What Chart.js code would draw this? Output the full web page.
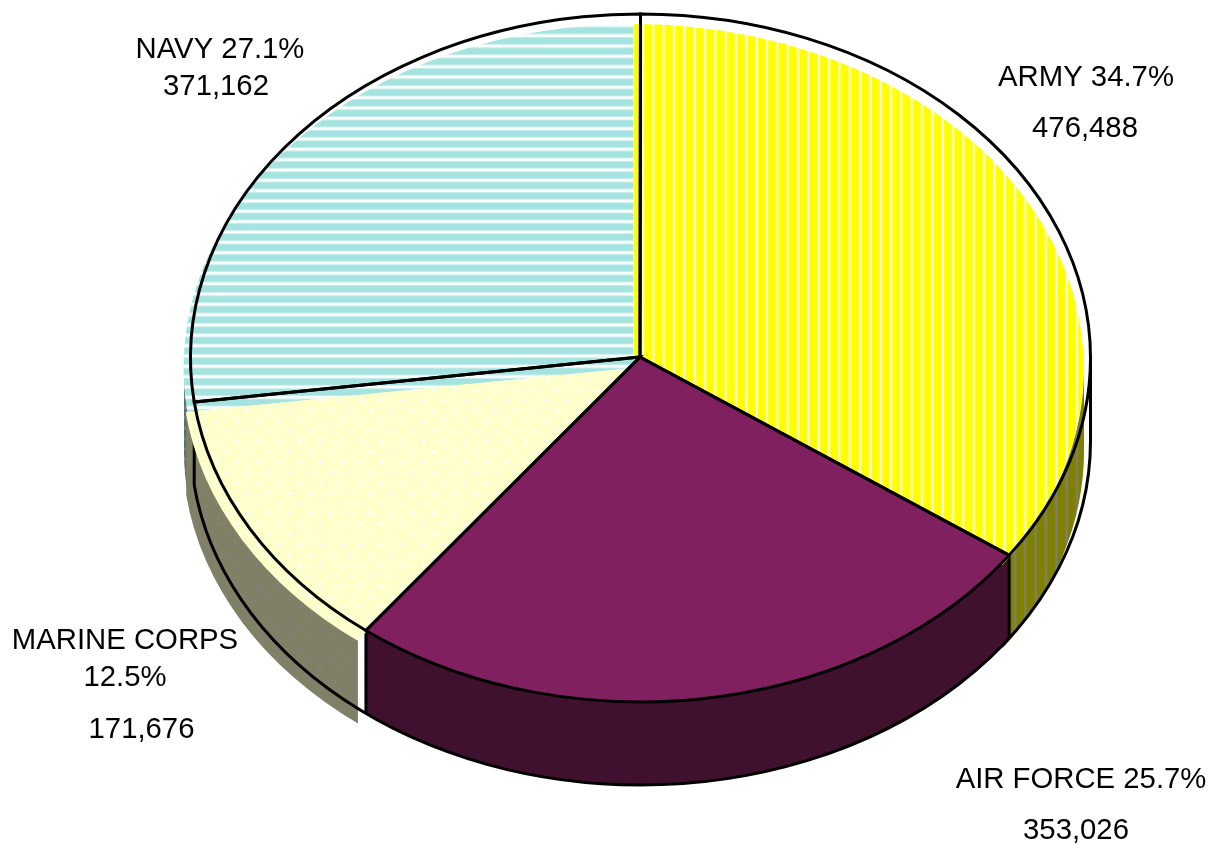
<!DOCTYPE html>
<html><head><meta charset="utf-8">
<style>html,body{margin:0;padding:0;background:#fff;overflow:hidden}canvas{display:block}</style>
<script src="https://cdn.jsdelivr.net/npm/chart.js@4"></script>
</head><body><canvas id="c" width="1212" height="844"></canvas>
<script>
const categories = ['ARMY', 'AIR FORCE', 'MARINE CORPS', 'NAVY'];
const values = [476488, 353026, 171676, 371162];
const percents = ['34.7', '25.7', '12.5', '27.1'];
const valueLabels = ['476,488', '353,026', '171,676', '371,162'];

const LOOK = {cx:640.5, cy:358, apexX:640, apexY:357, rx:450, ry:344, depth:83, line:3};
const SHIFT = [[-6.5,10],[0,0],[-8,10],[-6.5,10]];
const PERIOD = 31/3;

function stripes(vertical, band, gap, center, width){
  const t = document.createElement('canvas'); t.width = t.height = 31;
  const g = t.getContext('2d'); g.fillStyle = band; g.fillRect(0,0,31,31);
  g.fillStyle = gap;
  const paint = (w, alpha) => {
    g.globalAlpha = alpha;
    for (let k=-2;k<=3;k++){
      const s = center - w/2 + k*PERIOD;
      if (vertical) g.fillRect(s,0,w,31); else g.fillRect(0,s,31,w);
    }
  };
  paint(width+2, .4);
  paint(width, .9);
  return t;
}
function dots(base, dot){
  const t = document.createElement('canvas'); t.width = t.height = 62;
  const g = t.getContext('2d'); g.fillStyle = base; g.fillRect(0,0,62,62);
  g.fillStyle = dot;
  for (let i=-1;i<=7;i++) for (let j=-1;j<=7;j++){
    if ((i+j)%2) continue;
    g.beginPath(); g.arc(i*PERIOD,j*PERIOD,1.8,0,7); g.fill();
  }
  return t;
}
const ctx0 = document.getElementById('c').getContext('2d');
function pat(tile, ax, ay){
  const p = ctx0.createPattern(tile,'repeat');
  p.matrix = new DOMMatrix().translate(ax,ay);
  p.setTransform(p.matrix);
  return p;
}
const topFill = [
  pat(stripes(true,'#FFFF00','#FFFFFF',2.3,1.2), 0, 0),
  '#80205F',
  pat(dots('#FFFFCC','#FFFFFF'), 413, 452),
  pat(stripes(false,'#A5E3E0','#FFFFFF',15,2.4), 0, 0)
];
const wallFill = [
  pat(stripes(true,'#808000','#808080',2.3,1.2), 0, 0),
  '#40102F',
  pat(dots('#808066','#808080'), 413, 452),
  pat(stripes(false,'#537170','#808080',15,2.4), 0, 0)
];

const pie3d = {
  id:'pie3d',
  beforeDatasetsDraw(chart){
    const ctx = chart.ctx, arcs = chart.getDatasetMeta(0).data, L = LOOK;
    for (const i of [3,2,0,1]){
      const a = arcs[i], a0 = Math.max(a.startAngle,0), a1 = Math.min(a.endAngle,Math.PI);
      if (a1 <= a0) continue;
      const [dx,dy] = SHIFT[i];
      ctx.beginPath();
      ctx.ellipse(L.cx+dx,L.cy+dy,L.rx,L.ry,0,a0,a1);
      ctx.ellipse(L.cx+dx,L.cy+dy+L.depth,L.rx,L.ry,0,a1,a0,true);
      ctx.closePath();
      ctx.fillStyle = wallFill[i];
      ctx.fill();
    }
    ctx.strokeStyle='#000'; ctx.lineWidth=L.line; ctx.lineJoin='round';
    ctx.beginPath();
    ctx.ellipse(L.cx,L.cy+L.depth,L.rx,L.ry,0,0,arcs[2].endAngle);
    ctx.stroke();
    for (const ang of [0,arcs[0].endAngle,arcs[1].endAngle,arcs[2].endAngle]){
      const x=L.cx+L.rx*Math.cos(ang), y=L.cy+L.ry*Math.sin(ang);
      ctx.beginPath(); ctx.moveTo(x,y); ctx.lineTo(x,y+L.depth); ctx.stroke();
    }
    for (const i of [3,0,2,1]){
      const a = arcs[i];
      const [dx,dy] = SHIFT[i];
      ctx.save();
      ctx.translate(L.apexX+dx,L.cy+dy);
      ctx.scale(L.rx/a.outerRadius,L.ry/a.outerRadius);
      ctx.translate(-a.x,-a.y);
      const f = a.options.backgroundColor;
      if (f instanceof CanvasPattern) f.setTransform(ctx.getTransform().inverse().multiply(f.matrix));
      a.draw(ctx);
      if (f instanceof CanvasPattern) f.setTransform(f.matrix);
      ctx.restore();
    }
    ctx.lineJoin='miter';
    for (const a of arcs){
      ctx.beginPath();
      ctx.moveTo(L.apexX,L.apexY);
      ctx.ellipse(L.cx,L.cy,L.rx,L.ry,0,a.startAngle,a.endAngle);
      ctx.closePath();
      ctx.stroke();
    }
    return false;
  },
  afterDraw(chart){
    const ctx = chart.ctx;
    ctx.save();
    ctx.font = '29.3px "Liberation Sans", Arial, sans-serif';
    ctx.fillStyle = '#000'; ctx.textAlign='center'; ctx.textBaseline='alphabetic';
    const lines = [
      [categories[0]+' '+percents[0]+'%',1086,86],[valueLabels[0],1085,137],
      [categories[3]+' '+percents[3]+'%',220,58],[valueLabels[3],216,95],
      [categories[2],125,649],[percents[2]+'%',125,686],[valueLabels[2],141.5,738],
      [categories[1]+' '+percents[1]+'%',1081,788],[valueLabels[1],1076,839]
    ];
    for (const [t,x,y] of lines) ctx.fillText(t,x,y);
    ctx.restore();
  }
};

new Chart(ctx0,{
  type:'pie',
  data:{labels:categories,datasets:[{data:values,backgroundColor:topFill,borderWidth:0}]},
  options:{responsive:false,animation:false,devicePixelRatio:1,
    plugins:{legend:{display:false},tooltip:{enabled:false}},events:[]},
  plugins:[pie3d]
});
</script></body></html>
